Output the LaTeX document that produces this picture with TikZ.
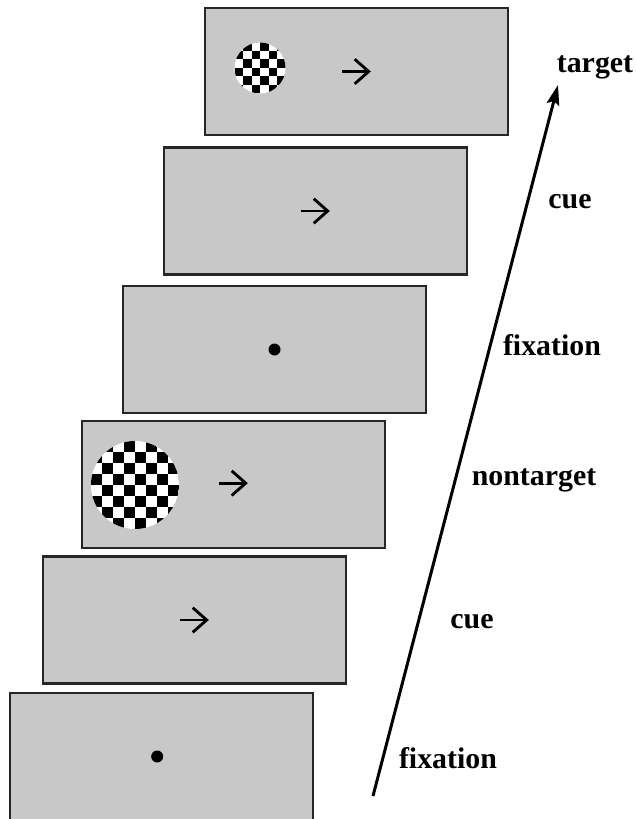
\documentclass[tikz,border=0pt]{standalone}
\usepackage{fontspec}
\setmainfont{Liberation Serif}
\usetikzlibrary{arrows.meta,calc}

\definecolor{screengray}{RGB}{200,200,200}

% checkerboard disc: centre x, centre y, radius, squares across
\newcommand{\checkdisc}[4]{%
\begin{scope}
\clip (#1,#2) circle (#3);
\fill [white] (#1,#2) circle (#3);
\pgfmathsetmacro{\sqside}{2*#3/#4}
\foreach \i in {1,...,#4} \foreach \j in {1,...,#4} {
  \ifodd\numexpr\i+\j\relax
    \fill ({#1-#3+(\i-1)*\sqside},{#2-#3+(\j-1)*\sqside}) rectangle ++(\sqside,\sqside);
  \fi}
\end{scope}}

\tikzset{
  screen/.style={draw=black!85, line width=0.065cm, fill=screengray,
    minimum width=9.09cm, minimum height=3.81cm, inner sep=0pt},
  pointer/.style={line width=0.085cm, -{Straight Barb[length=0.42cm,width=0.74cm]}},
  timeline/.style={line width=0.09cm, -{Stealth[length=0.6cm,width=0.38cm,inset=0.1cm]}},
  phase/.style={font=\fontsize{25.5}{30}\selectfont\bfseries, anchor=base, inner sep=0pt},
}

\begin{document}
\begin{tikzpicture}[x=0.03cm,y=-0.03cm]
\useasboundingbox (0,0) rectangle (635,819);
% screens, from the last one (top) to the first one (bottom)
\node [screen] (s6) at (161.5,756.5) {};
\node [screen] (s5) at (194.5,620) {};
\node [screen] (s4) at (233.5,484.5) {};
\node [screen] (s3) at (274.5,349.5) {};
\node [screen] (s2) at (315.5,211) {};
\node [screen] (s1) at (356.5,71.5) {};
% stimuli
\checkdisc{260}{68}{25.5}{6}
\draw [pointer] ([xshift=-0.43cm]s1.center) -- ([xshift=0.43cm]s1.center);
\draw [pointer] ([xshift=-0.43cm]s2.center) -- ([xshift=0.43cm]s2.center);
\fill (s3.center) circle (6);
\checkdisc{135}{485}{44}{8}
\draw [pointer] ([xshift=-0.43cm,yshift=0.04cm]s4.center) -- ([xshift=0.43cm,yshift=0.04cm]s4.center);
\draw [pointer] ([xshift=-0.43cm]s5.center) -- ([xshift=0.43cm]s5.center);
\fill ([xshift=-0.13cm]s6.center) circle (6);
% time axis
\coordinate (t0) at (373,796);
\coordinate (t1) at (558,85);
\draw [timeline] (t0) -- (t1);
\node [phase] (ptarget) at (595,73) {target};
\node [phase] (pcue2) at (570,208) {cue};
\node [phase] (pfix2) at (552,355) {fixation};
\node [phase] (pnon) at (534,485) {nontarget};
\node [phase] (pcue1) at (472,628) {cue};
\node [phase] (pfix1) at (448,768) {fixation};
\end{tikzpicture}
\end{document}
